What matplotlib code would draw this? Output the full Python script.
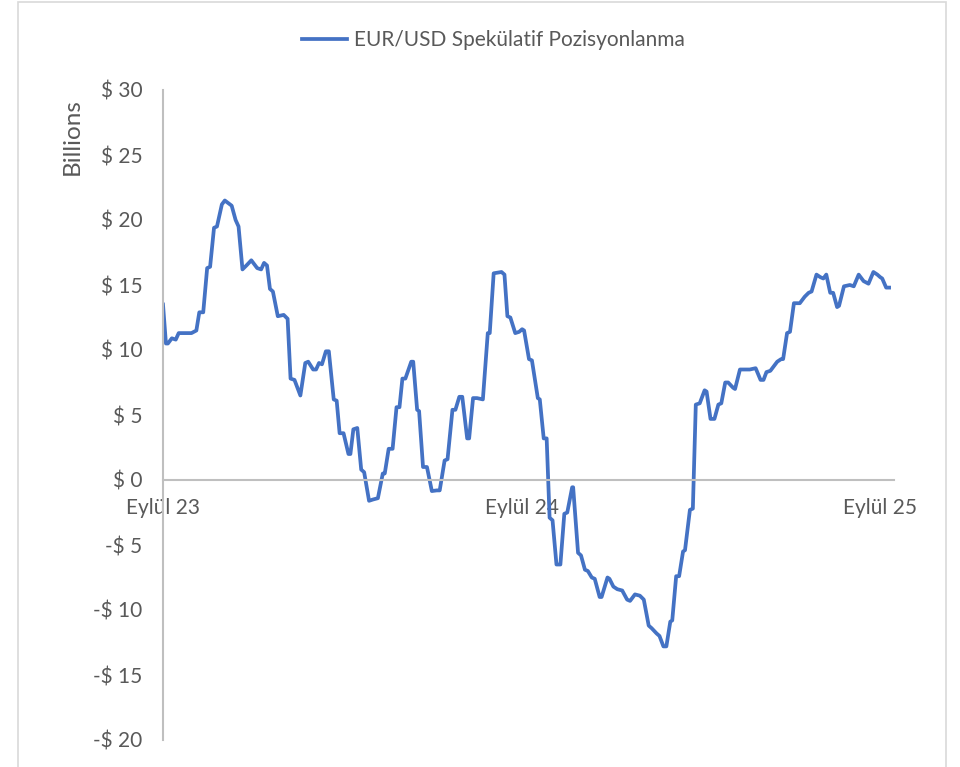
import numpy as np
import pandas as pd
import matplotlib
matplotlib.use("Agg")
import matplotlib.pyplot as plt
import matplotlib.dates as mdates
from matplotlib.patches import Rectangle

plt.rcParams['font.family'] = ['Lato', 'DejaVu Sans']

START = "2023-09-01"
# days after START and speculative positioning in USD billions
days = [0, 3, 5, 9, 13, 16, 29, 34, 37, 41, 45, 48, 52, 55, 60, 63, 70, 74, 77,
        81, 85, 90, 96, 100, 103, 106, 109, 112, 117, 123, 127, 130, 134, 140,
        145, 148, 153, 156, 159, 162, 166, 169, 174, 177, 180, 184, 189, 191,
        194, 198, 202, 205, 210, 214, 219, 224, 226, 230, 234, 238, 241, 244,
        247, 253, 255, 259, 261, 265, 269, 274, 279, 282, 287, 290, 295, 298,
        302, 305, 310, 312, 316, 320, 326, 331, 333, 337, 345, 348, 351, 354,
        359, 363, 366, 368, 373, 376, 382, 384, 388, 391, 394, 397, 401, 405,
        409, 412, 417, 418, 423, 426, 430, 433, 437, 440, 445, 447, 453, 455,
        459, 463, 468, 473, 476, 481, 486, 490, 495, 498, 503, 506, 510, 513,
        517, 519, 523, 526, 530, 532, 537, 540, 543, 547, 552, 554, 558, 562,
        566, 569, 573, 576, 581, 583, 588, 592, 598, 604, 609, 612, 615, 619,
        623, 626, 630, 632, 636, 639, 643, 649, 654, 658, 661, 666, 670, 673,
        676, 680, 683, 687, 689, 694, 700, 704, 709, 714, 719, 724, 728, 731,
        733, 737, 740]
values = [13.5, 10.5, 10.5, 10.9, 10.8, 11.3, 11.3, 11.5, 12.9, 12.9, 16.3, 16.4,
          19.4, 19.5, 21.2, 21.5, 21.1, 20.0, 19.5, 16.2, 16.5, 16.9, 16.3, 16.2,
          16.7, 16.5, 14.7, 14.5, 12.6, 12.7, 12.4, 7.8, 7.7, 6.5, 9.0, 9.1, 8.5,
          8.5, 9.0, 8.9, 9.9, 9.9, 6.2, 6.1, 3.6, 3.6, 2.0, 2.0, 3.9, 4.0, 0.8,
          0.6, -1.6, -1.5, -1.4, 0.5, 0.5, 2.4, 2.4, 5.6, 5.6, 7.8, 7.8, 9.1, 9.1,
          5.4, 5.3, 1.0, 1.0, -0.85, -0.8, -0.8, 1.5, 1.6, 5.4, 5.4, 6.4, 6.4,
          3.2, 3.2, 6.3, 6.3, 6.2, 11.3, 11.3, 15.9, 16.0, 15.8, 12.6, 12.5, 11.3,
          11.4, 11.6, 11.5, 9.3, 9.2, 6.3, 6.2, 3.2, 3.2, -2.9, -3.1, -6.5, -6.5,
          -2.6, -2.5, -0.56, -0.56, -5.6, -5.8, -6.9, -7.0, -7.5, -7.6, -9.0,
          -9.0, -7.5, -7.6, -8.2, -8.4, -8.5, -9.2, -9.3, -8.8, -8.9, -9.2, -11.2,
          -11.4, -11.8, -12.0, -12.8, -12.8, -10.9, -10.8, -7.4, -7.4, -5.5, -5.4,
          -2.3, -2.2, 5.8, 5.9, 6.9, 6.8, 4.7, 4.7, 5.8, 5.9, 7.5, 7.5, 7.1, 7.0,
          8.5, 8.5, 8.5, 8.6, 7.7, 7.7, 8.3, 8.4, 8.8, 9.1, 9.3, 9.3, 11.3, 11.4,
          13.6, 13.6, 14.1, 14.4, 14.5, 15.8, 15.6, 15.5, 15.8, 14.4, 14.4, 13.3,
          13.4, 14.9, 15.0, 14.9, 15.8, 15.3, 15.1, 16.0, 15.8, 15.6, 15.5, 14.8,
          14.8]
tick_dates = ["2023-09-01", "2024-09-01", "2025-09-01"]
tick_labels = ["Eylül 23", "Eylül 24", "Eylül 25"]
y_ticks = [30, 25, 20, 15, 10, 5, 0, -5, -10, -15, -20]

dates = pd.Timestamp(START) + pd.to_timedelta(days, unit="D")
TXT = "#595959"
BLUE = "#4472C4"

fig = plt.figure(figsize=(9.6, 7.67), dpi=100)
fig.patches.append(Rectangle((18 / 960, -0.01), 928 / 960, 1.008, transform=fig.transFigure,
                             fill=False, edgecolor="#D9D9D9", linewidth=1.2))
ax = fig.add_axes([163 / 960, 1 - 740 / 767, 731 / 960, 650 / 767])
line, = ax.plot(dates, values, color=BLUE, linewidth=2.7, solid_joinstyle="round",
                label="EUR/USD Spekülatif Pozisyonlanma")

ax.set_xlim(pd.Timestamp(START), pd.Timestamp(START) + pd.Timedelta(days=745))
ax.set_ylim(-20, 30)
ax.set_yticks(y_ticks)
ax.set_yticklabels([f"$ {v}" if v >= 0 else f"-$ {-v}" for v in y_ticks])
ax.set_xticks(pd.to_datetime(tick_dates))
ax.set_xticklabels(tick_labels)

for s in ["top", "right"]:
    ax.spines[s].set_visible(False)
ax.spines["bottom"].set_position(("data", 0))
ax.spines["bottom"].set_color("#BFBFBF")
ax.spines["left"].set_color("#BFBFBF")
ax.spines["bottom"].set_linewidth(1.5)
ax.spines["left"].set_linewidth(1.5)
ax.tick_params(axis="y", length=0, pad=15, labelsize=15, labelcolor=TXT)
ax.tick_params(axis="x", length=0, pad=13, labelsize=15, labelcolor=TXT)

fig.text(72 / 960, 1 - 137 / 767, "Billions", rotation=90, ha="center", va="center",
         fontsize=17.5, color=TXT)
fig.legend(handles=[line], loc="center", bbox_to_anchor=(493 / 960, 1 - 40 / 767),
           frameon=False, fontsize=15, labelcolor=TXT, handlelength=2.2,
           handletextpad=0.3)

fig.savefig("out.png", dpi=100)
